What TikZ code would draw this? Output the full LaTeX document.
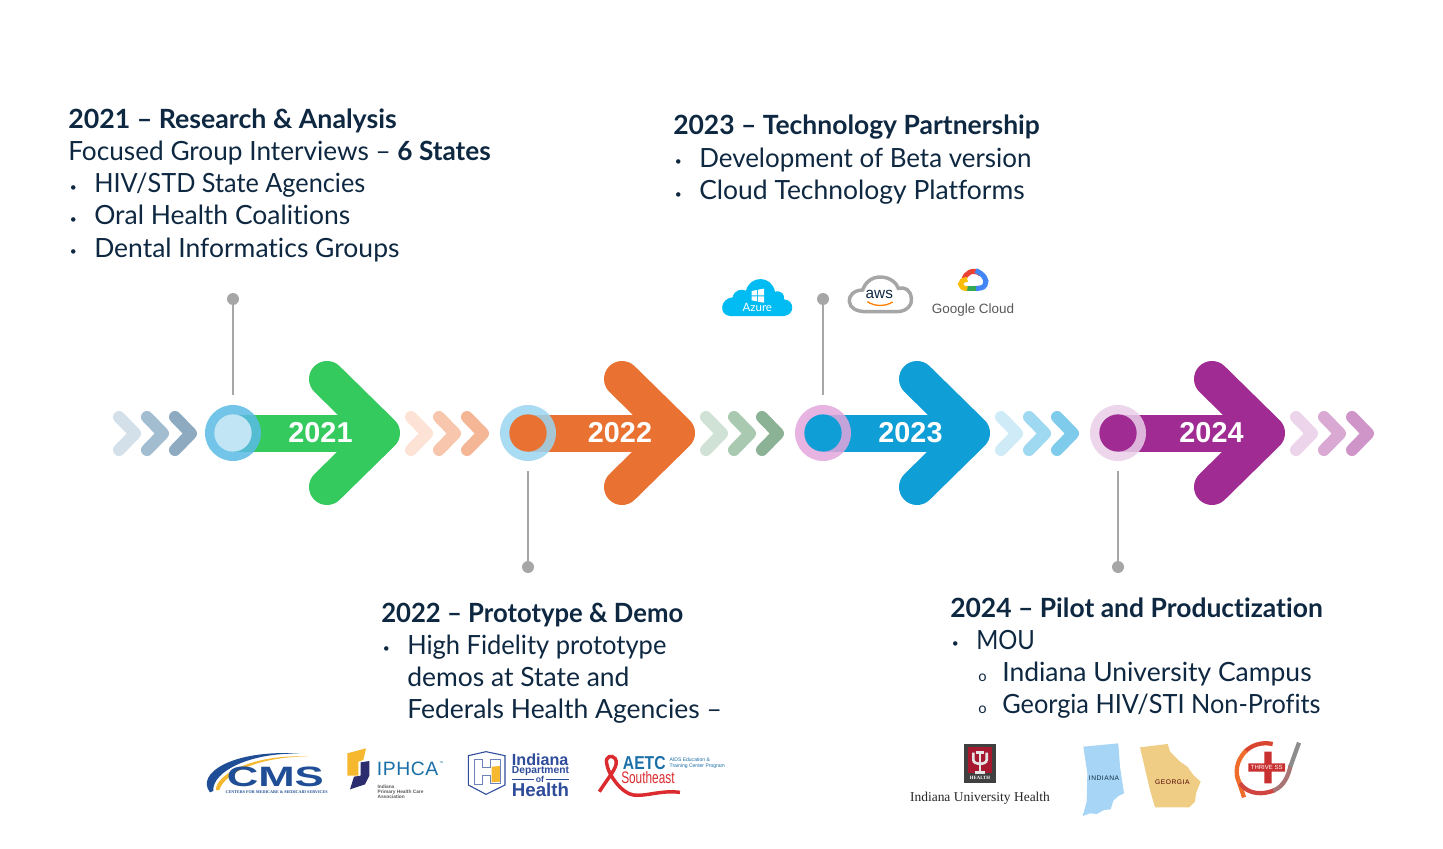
\documentclass[tikz,border=0pt]{standalone}
\usepackage{fontspec}
\setmainfont[Ligatures=NoCommon]{Lato}
\newfontfamily\armf{Liberation Sans}
\newfontfamily\serf{Liberation Serif}
\definecolor{ink}{HTML}{0E2841}
\definecolor{pingray}{HTML}{A6A6A6}
\definecolor{agreen}{HTML}{34CA5D}
\definecolor{aorange}{HTML}{E97132}
\definecolor{ablue}{HTML}{0F9ED5}
\definecolor{apurple}{HTML}{A02B93}
\definecolor{cmsblue}{HTML}{1F4E96}
\definecolor{ingold}{HTML}{F5B82E}
\definecolor{iphnavy}{HTML}{2B2D6E}
\definecolor{iphteal}{HTML}{1B6FA8}
\definecolor{idoh}{HTML}{2F4C9B}
\definecolor{aidsred}{HTML}{DB2B2F}
\definecolor{iured}{HTML}{A6192E}
\definecolor{azure}{HTML}{00BCF2}
\definecolor{mapA}{HTML}{A6D5F5}
\definecolor{mapG}{HTML}{EFCD85}
\definecolor{gred}{HTML}{EA4335}
\definecolor{gblue}{HTML}{4285F4}
\definecolor{ggreen}{HTML}{34A853}
\definecolor{gyellow}{HTML}{FBBC05}
\definecolor{thrA}{HTML}{D9452F}
\definecolor{thrB}{HTML}{EF6C2B}
\definecolor{thrC}{HTML}{D0453F}
\definecolor{thrD}{HTML}{A87474}
\definecolor{thrE}{HTML}{8C8C8C}
\definecolor{thrX}{HTML}{C8312F}
\newcommand{\bodyfont}{\fontsize{19.85}{24.15}\selectfont}
\newcommand{\bl}[1]{\makebox[19.5pt][l]{\hspace{1.2pt}\fontsize{9}{9}\selectfont\raisebox{1pt}{•}}#1}
\newcommand{\sbl}[1]{\hspace{19.5pt}\makebox[19.5pt][l]{\hspace{1.5pt}\fontsize{11}{11}\selectfont o}#1}
\newcommand{\hg}{\hspace{19.5pt}}
\newcommand{\tf}[1]{\fontsize{#1}{#1}\selectfont}
\newcommand{\sx}[2]{\scalebox{#1}[1]{#2}}
\tikzset{
  block/.style={anchor=base west,inner sep=0pt,align=left,text=ink,font=\bodyfont},
  shaftline/.style={line width=27.75pt},
  headline/.style={line width=27pt,line cap=round,line join=round},
  chev/.style={line width=9pt,line cap=round,line join=round},
  ring/.style={circle,inner sep=0pt,minimum size=42pt,fill opacity=.85},
  core/.style={circle,inner sep=0pt,minimum size=28pt},
  yearlabel/.style={text=white,inner sep=0pt,font=\armf\bfseries\tf{21.6}},
  pindot/.style={circle,fill=pingray,inner sep=0pt,minimum size=9pt},
  pinline/.style={draw=pingray,line width=1.5pt,shorten >=7pt},
  lab/.style={inner sep=0pt},
}
\newcommand{\chevs}[4]{%
  \definecolor{cA}{HTML}{#2}\definecolor{cB}{HTML}{#3}\definecolor{cC}{HTML}{#4}%
  \draw[chev,draw=cA] (#1+6,417)--(#1+22,433.5)--(#1+6,450);
  \draw[chev,draw=cB] (#1+34,417)--(#1+50,433.5)--(#1+34,450);
  \draw[chev,draw=cC] (#1+62,417)--(#1+78,433.5)--(#1+62,450);}
\newcommand{\stage}[7]{% x, name, arrow colour, ring colour, core colour, year, year x
  \definecolor{cR}{HTML}{#4}%
  \draw[shaftline,draw=#3] (#1,433)--(#1+149,433);
  \draw[headline,draw=#3] (#1+94,379)--(#1+149,433)--(#1+94,487);
  \node[ring,fill=cR] (ring#2) at (#1,433) {};
  \node[core,fill=#5] (core#2) at (#1,433) {};
  \node[yearlabel] (year#2) at (#7,433) {#6};}
\begin{document}
\begin{tikzpicture}[x=0.75pt,y=-0.75pt]
\useasboundingbox (0,0) rectangle (1443,849);
\fill[white] (0,0) rectangle (1443,849);
% chevrons
\chevs{113}{D3E0EA}{A2BDD0}{8EAAC0}
\chevs{405}{FCE3D6}{F8C6AC}{F5B696}
\chevs{700}{D0E2D5}{A9C9B1}{8BB295}
\chevs{995}{CFEBF8}{9FD8F1}{7FCBEB}
\chevs{1290}{ECD4EA}{D9A9D4}{CF94C8}
% stages
\definecolor{coreone}{HTML}{C2E5F6}
\stage{233}{A}{agreen}{5ABBE6}{coreone}{2021}{320.5}
\stage{528}{B}{aorange}{9BD5F0}{aorange}{2022}{620}
\stage{823}{C}{ablue}{E3A6DC}{ablue}{2023}{910.5}
\stage{1118}{D}{apurple}{EBCFE8}{apurple}{2024}{1211.5}
% pins
\node[pindot] (pinA) at (233,299) {};
\node[pindot] (pinB) at (528,567) {};
\node[pindot] (pinC) at (823,299) {};
\node[pindot] (pinD) at (1118,567) {};
\draw[pinline] (pinA) -- (ringA);
\draw[pinline] (pinB) -- (ringB);
\draw[pinline] (pinC) -- (ringC);
\draw[pinline] (pinD) -- (ringD);
% text blocks
\node[block] (txtA) at (68,257) {\sx{1.01}{\textbf{2021 – Research \& Analysis}}\\
 \sx{.99}{Focused Group Interviews – \textbf{6 States}}\\
 \bl{\sx{.955}{HIV/STD State Agencies}}\\
 \bl{Oral Health Coalitions}\\
 \bl{Dental Informatics Groups}};
\node[block] (txtC) at (673,199.4) {\textbf{2023 – Technology Partnership}\\
 \bl{\sx{.98}{Development of Beta version}}\\
 \bl{Cloud Technology Platforms}};
\node[block] (txtB) at (381,718.6) {\sx{.97}{\textbf{2022 – Prototype \& Demo}}\\
 \bl{\sx{.963}{High Fidelity prototype}}\\
 \hg demos at State and\\
 \hg Federals Health Agencies –};
\node[block] (txtD) at (950,713.6) {\textbf{2024 – Pilot and Productization}\\
 \bl{\sx{.9}{MOU}}\\
 \sbl{Indiana University Campus}\\
 \sbl{\sx{.956}{Georgia HIV/STI Non-Profits}}};
% Azure
\begin{scope}[shift={(710,260)},x=0.25pt,y=-0.25pt]
\fill[azure] (60,168) .. controls (25,165) and (30,115) .. (68,112) .. controls (72,90) and (95,85) .. (108,92)
  .. controls (120,45) and (185,45) .. (195,95) .. controls (215,90) and (225,105) .. (222,118)
  .. controls (255,120) and (255,165) .. (222,168) -- cycle;
\fill[white] (125,93)--(141,90)--(141,106)--(125,106)--cycle (144,89)--(162,86)--(162,106)--(144,106)--cycle
  (125,109)--(141,109)--(141,124)--(125,121)--cycle (144,109)--(162,109)--(162,128)--(144,125)--cycle;
\node[lab,text=white,font=\tf{8.6}] (azureT) at (142,143) {Azure};
\end{scope}
% AWS
\begin{scope}[shift={(710,260)},x=0.25pt,y=-0.25pt]
\draw[draw=pingray,line width=2.6pt] (470,155)--(560,155) .. controls (595,155) and (607,130) .. (604,115)
  .. controls (602,90) and (585,80) .. (565,85) .. controls (555,55) and (510,40) .. (480,60)
  .. controls (465,70) and (460,85) .. (458,90) .. controls (430,90) and (415,110) .. (418,125)
  .. controls (420,145) and (440,155) .. (470,155) -- cycle;
\node[lab,text=ink,font=\armf\tf{11.5}] (awsT) at (508,103) {aws};
\draw[draw=orange,line width=1pt] (472,125) .. controls (495,140) and (525,140) .. (548,126);
% Google cloud
\draw[line width=3.8pt,draw=gred] (762,60) .. controls (765,38) and (790,25) .. (812,42);
\draw[line width=3.8pt,draw=gblue] (797,32) .. controls (818,40) and (835,60) .. (825,75) .. controls (820,85) and (808,85) .. (795,85);
\draw[line width=3.8pt,draw=ggreen] (765,85) -- (798,85);
\draw[line width=3.8pt,draw=gyellow] (772,86) .. controls (745,85) and (745,60) .. (772,58);
\node[lab,text=black!65,font=\armf\tf{10.1}] (gcT) at (789,150) {Google Cloud};
\end{scope}
% CMS
\begin{scope}[shift={(190,735)},x=0.25pt,y=-0.25pt]
\fill[cmsblue] (60,172) .. controls (15,115) and (130,42) .. (330,56) .. controls (180,52) and (65,110) .. (70,168)-- cycle;
\fill[ingold] (78,165) .. controls (75,120) and (190,55) .. (360,65) .. controls (220,62) and (105,110) .. (88,165) -- cycle;
\node[lab,text=cmsblue] (cmsT) at (256,126) {\scalebox{1.56}[1]{\armf\bfseries\tf{21}CMS}};
\node[lab,text=cmsblue] (cmsS) at (260,171) {\serf\bfseries\tf{3.1}CENTERS FOR MEDICARE \& MEDICAID SERVICES};
% IPHCA
\fill[ingold] (472,55)--(528,40)--(520,75)--(505,80)--(505,122)--(472,122)--cycle;
\fill[iphnavy] (512,82)--(538,78)--(538,122)--(525,148)--(480,163)--(492,125)--(512,122)--cycle;
\node[lab,anchor=west,text=iphteal] (iphT) at (560,101) {\armf\tf{14.5}\addfontfeature{LetterSpace=3}IPHCA};
\node[lab,anchor=west,text=iphteal] (iphTM) at (748,84) {\armf\tf{2}TM};
\node[lab,anchor=west,align=left,text=black!65,font=\armf\bfseries\tf{3.6}] (iphS) at (562,170) {Indiana\\[.2pt]Primary Health Care\\[.2pt]Association};
\end{scope}
% Indiana Dept of Health
\begin{scope}[shift={(460,735)},x=0.25pt,y=-0.25pt]
\draw[draw=idoh,line width=.8pt,fill=white] (25,62)--(78,50)--(135,62)--(135,150)--(78,178)--(25,150)--cycle;
\fill[ingold] (95,95)--(120,93)--(120,140)--(95,142)--cycle;
\draw[draw=idoh!70,line width=.7pt] (42,72)--(66,72)--(66,96)--(92,96)--(92,72)--(122,72)--(122,145)--(92,145)--(92,120)--(66,120)--(66,148)--(42,148)--cycle;
\node[lab,anchor=west,text=idoh] (idohA) at (155,73) {\armf\bfseries\tf{12.1}Indiana};
\node[lab,anchor=west,text=idoh] (idohB) at (155,107) {\armf\bfseries\tf{7.7}Department};
\node[lab,text=idoh] (idohC) at (240,133) {\armf\bfseries\tf{6.5}of};
\draw[draw=idoh,line width=.7pt] (155,132)--(222,132) (258,132)--(327,132);
\node[lab,anchor=west,text=idoh] (idohD) at (155,164) {\armf\bfseries\tf{14}Health};
\end{scope}
% AETC
\begin{scope}[shift={(460,735)},x=0.25pt,y=-0.25pt]
\draw[draw=aidsred,line width=2.6pt] (418,170) .. controls (450,120) and (480,90) .. (465,70) .. controls (455,58) and (435,65) .. (440,85)
  .. controls (445,120) and (485,175) .. (520,180) .. controls (560,185) and (600,165) .. (660,172);
\node[lab,anchor=west,text=iphteal] (aetcT) at (488,83) {\scalebox{.84}[1]{\armf\bfseries\tf{14}AETC}};
\node[lab,anchor=west,text=aidsred] (aetcS) at (483,127) {\scalebox{.71}[1]{\armf\tf{12.5}Southeast}};
\node[lab,anchor=west,text=iphteal] (aetcA) at (628,74) {\scalebox{.97}[1]{\armf\tf{3.9}AIDS Education \&}};
\node[lab,anchor=west,text=iphteal] (aetcB) at (628,93) {\scalebox{.97}[1]{\armf\tf{3.9}Training Center Program}};
\end{scope}
% IU, Indiana, Georgia
\begin{scope}[shift={(900,730)},x=0.25pt,y=-0.25pt]
\fill[black!75] (192,42) rectangle (288,160);
\fill[iured] (203,52) rectangle (277,130);
\draw[draw=black!10,line width=2pt] (240,65)--(240,128) (225,128)--(255,128) (228,68)--(252,68);
\draw[draw=black!10,line width=2pt] (220,68)--(220,90) .. controls (220,105) and (260,105) .. (260,90) -- (260,68);
\node[lab,text=white] (iuH) at (240,145) {\serf\bfseries\tf{3.6}HEALTH};
\node[lab,text=black!85] (iuT) at (240,205) {\serf\tf{10.1}Indiana University Health};
\fill[mapA] (550,50)--(655,40)--(660,110)--(672,190)--(655,198)--(640,212)--(632,238)--(612,240)--(590,252)--(570,250)--(548,258)--(560,215)--(562,130)--cycle;
\node[lab,text=ink] (inT) at (612,146) {\armf\tf{5}\addfontfeature{LetterSpace=8}INDIANA};
\fill[mapG] (720,52)--(803,42)--(810,65)--(840,95)--(862,110)--(880,135)--(902,155)--(888,190)--(885,215)--(868,232)--(765,232)--(750,180)--cycle;
\node[lab,text=black!70!red] (gaT) at (817,158) {\armf\tf{5}\addfontfeature{LetterSpace=8}GEORGIA};
\end{scope}
% Thrive
\begin{scope}[shift={(1220,730)},x=0.25pt,y=-0.25pt]
\draw[line width=3.2pt,draw=thrA] (158,42) .. controls (125,35) and (95,45) .. (75,65);
\draw[line width=3.2pt,draw=thrB] (78,62) .. controls (50,90) and (40,130) .. (62,165);
\draw[line width=3.2pt,draw=thrB] (50,135)--(72,202);
\draw[line width=3.2pt,draw=thrC] (60,160) .. controls (85,195) and (130,195) .. (165,180);
\draw[line width=3.2pt,draw=thrD] (160,182) .. controls (190,170) and (205,140) .. (212,105);
\draw[line width=3.2pt,draw=thrE] (211,110)--(237,38);
\fill[thrX] (133,65) rectangle (155,160) (85,100) rectangle (195,125);
\node[lab,text=white] (thrT) at (140,112) {\armf\tf{4.5}THRIVE SS};
\end{scope}
\end{tikzpicture}
\end{document}
